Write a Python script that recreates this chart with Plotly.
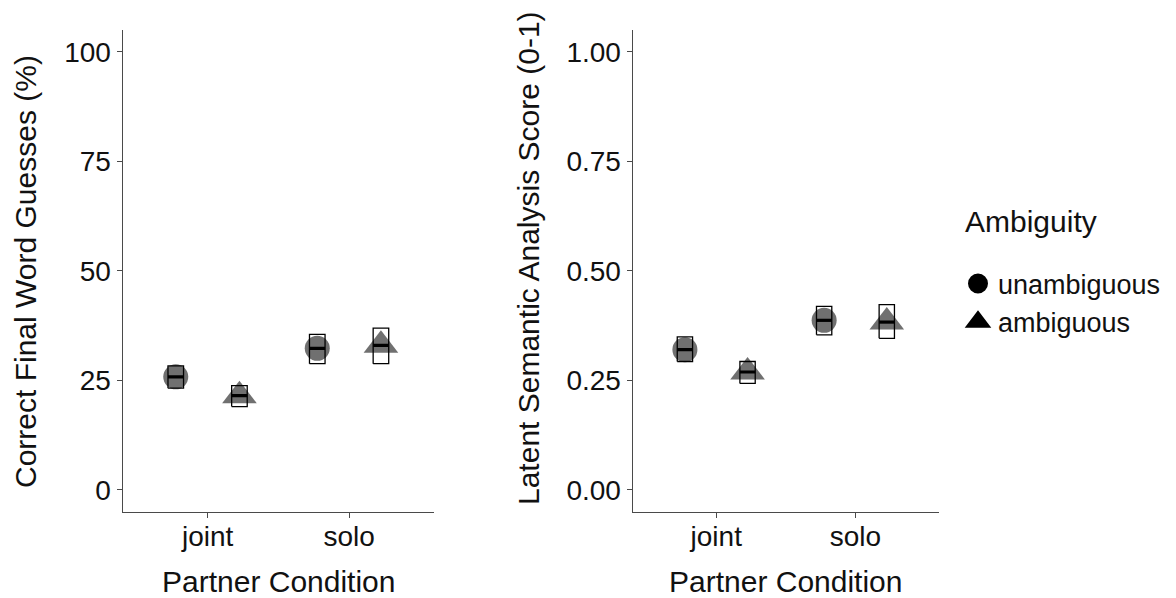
import plotly.graph_objects as go

# ---- data ----
categories = ["joint", "solo"]
ambiguity_levels = ["unambiguous", "ambiguous"]

# Left panel: Correct Final Word Guesses (%)
guess_unamb_mean = [25.8, 32.3]
guess_unamb_low = [23.2, 28.8]
guess_unamb_high = [28.3, 35.5]
guess_amb_mean = [21.5, 33.0]
guess_amb_low = [19.0, 28.8]
guess_amb_high = [23.8, 36.9]

# Right panel: Latent Semantic Analysis Score (0-1)
lsa_unamb_mean = [0.320, 0.387]
lsa_unamb_low = [0.293, 0.354]
lsa_unamb_high = [0.349, 0.419]
lsa_amb_mean = [0.269, 0.383]
lsa_amb_low = [0.243, 0.346]
lsa_amb_high = [0.293, 0.423]

left_ticks = [0, 25, 50, 75, 100]
right_ticks = [0.0, 0.25, 0.5, 0.75, 1.0]
right_ticklabels = ["0.00", "0.25", "0.50", "0.75", "1.00"]

# ---- style ----
FONT = "Liberation Sans, Arial, sans-serif"
GREY = "rgb(112,112,112)"
AXC = "#4a4a4a"
DODGE = 0.225
HALF = 0.055

fig = go.Figure()


def add_group(xa, ya, means, lows, highs, offset, symbol, size):
    xs = [i + offset for i in range(len(categories))]
    fig.add_trace(go.Scatter(
        x=xs, y=means, xaxis=xa, yaxis=ya, mode="markers",
        marker=dict(symbol=symbol, size=size, color=GREY, line=dict(width=0)),
        showlegend=False, hoverinfo="skip"))
    bx, by, mx, my = [], [], [], []
    for x, lo, hi, m in zip(xs, lows, highs, means):
        bx += [x - HALF, x + HALF, x + HALF, x - HALF, x - HALF, None]
        by += [lo, lo, hi, hi, lo, None]
        mx += [x - HALF, x + HALF, None]
        my += [m, m, None]
    fig.add_trace(go.Scatter(x=bx, y=by, xaxis=xa, yaxis=ya, mode="lines",
                             line=dict(color="black", width=1.3),
                             showlegend=False, hoverinfo="skip"))
    fig.add_trace(go.Scatter(x=mx, y=my, xaxis=xa, yaxis=ya, mode="lines",
                             line=dict(color="black", width=3.2),
                             showlegend=False, hoverinfo="skip"))


add_group("x", "y", guess_unamb_mean, guess_unamb_low, guess_unamb_high, -DODGE, "circle", 25)
add_group("x", "y", guess_amb_mean, guess_amb_low, guess_amb_high, DODGE, "triangle-up", 30)
add_group("x2", "y2", lsa_unamb_mean, lsa_unamb_low, lsa_unamb_high, -DODGE, "circle", 25)
add_group("x2", "y2", lsa_amb_mean, lsa_amb_low, lsa_amb_high, DODGE, "triangle-up", 30)

# legend entries (black keys)
for name, sym in zip(ambiguity_levels, ["circle", "triangle-up"]):
    fig.add_trace(go.Scatter(x=[None], y=[None], mode="markers", name=name,
                             marker=dict(symbol=sym, size=16, color="black",
                                         line=dict(width=4, color="black"))))

ydom = [86.3 / 598, 1 - 30 / 598]
common_x = dict(range=[-0.6, 1.6], tickmode="array", tickvals=[0, 1], ticktext=categories,
                showline=True, linecolor=AXC, linewidth=1.4, ticks="outside",
                ticklen=5, tickwidth=1.2, tickcolor=AXC, showgrid=False, zeroline=False,
                tickfont=dict(family=FONT, size=28, color="#111"), fixedrange=True,
                ticklabelstandoff=-6)
common_y = dict(showline=True, linecolor=AXC, linewidth=1.4, ticks="outside",
                ticklen=5, tickwidth=1.2, tickcolor=AXC, showgrid=False, zeroline=False,
                tickfont=dict(family=FONT, size=28, color="#111"), domain=ydom,
                fixedrange=True)

fig.update_layout(
    width=1176, height=598,
    margin=dict(l=0, r=0, t=0, b=0),
    paper_bgcolor="white", plot_bgcolor="white",
    font=dict(family=FONT, color="#111"),
    xaxis=dict(domain=[122.7 / 1176, 434 / 1176], anchor="y", **common_x),
    yaxis=dict(range=[-5, 105], tickvals=left_ticks, anchor="x", **common_y),
    xaxis2=dict(domain=[632.7 / 1176, 939 / 1176], anchor="y2", **common_x),
    yaxis2=dict(range=[-0.05, 1.05], tickvals=right_ticks, ticktext=right_ticklabels,
                anchor="x2", **common_y),
    legend=dict(
        font=dict(family=FONT, size=27, color="#111"),
        x=958 / 1176, xanchor="left", y=1 - 303 / 598, yanchor="middle",
        bgcolor="rgba(0,0,0,0)", itemsizing="trace", tracegroupgap=0,
    ),
    showlegend=True,
)

ann = dict(showarrow=False, xref="paper", yref="paper", font=dict(family=FONT, size=30, color="#111"))
fig.add_annotation(text="Ambiguity", x=963 / 1176, y=1 - 222 / 598,
                   xanchor="left", yanchor="middle", **ann)
fig.add_annotation(text="Correct Final Word Guesses (%)", x=26 / 1176, y=1 - 272 / 598,
                   xanchor="center", yanchor="middle", textangle=-90, **ann)
fig.add_annotation(text="Latent Semantic Analysis Score (0-1)", x=529 / 1176, y=1 - 258 / 598,
                   xanchor="center", yanchor="middle", textangle=-90, **ann)
fig.add_annotation(text="Partner Condition", x=278.4 / 1176, y=1 - 581 / 598,
                   xanchor="center", yanchor="middle", **ann)
fig.add_annotation(text="Partner Condition", x=785.9 / 1176, y=1 - 581 / 598,
                   xanchor="center", yanchor="middle", **ann)

fig.write_html("out.html")
